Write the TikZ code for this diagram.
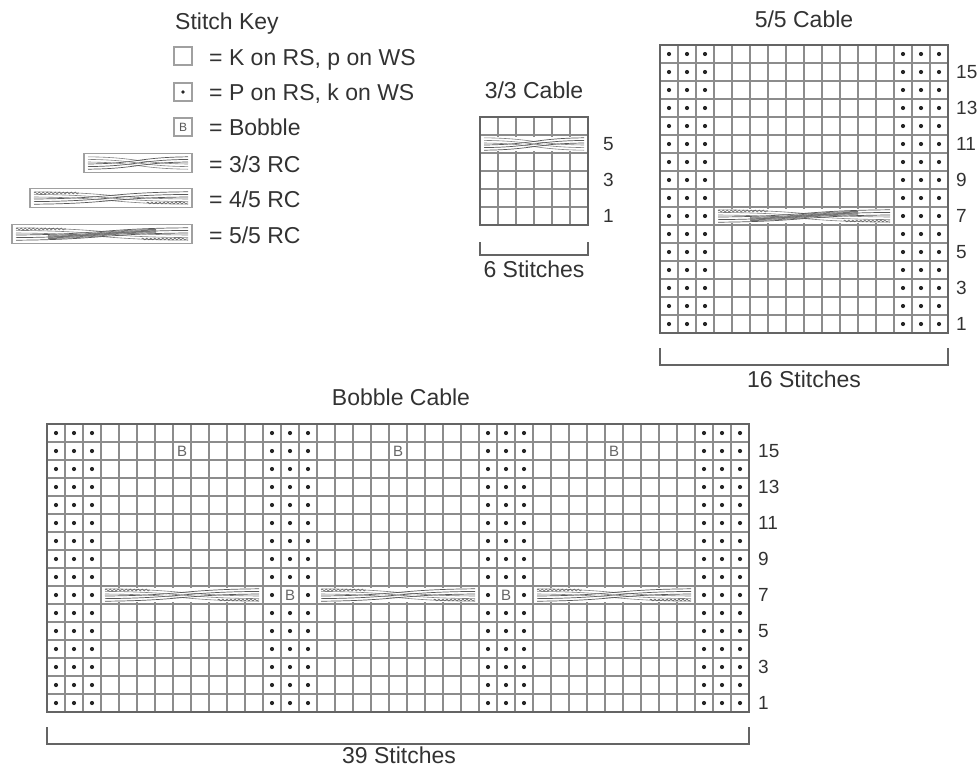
\documentclass[tikz,border=0pt]{standalone}
\usepackage{fontspec}
\setmainfont{Liberation Sans}
\usetikzlibrary{decorations.pathmorphing}
\definecolor{gridgray}{RGB}{140,140,140}
\definecolor{framegray}{RGB}{100,100,100}
\definecolor{inkgray}{RGB}{50,50,50}
\definecolor{keygray}{RGB}{160,160,160}
\tikzset{
  gridline/.style={draw=gridgray, line width=1.5pt},
  chartframe/.style={draw=framegray, line width=2.4pt},
  purldot/.style={fill=black!85},
  chartlabel/.style={font=\fontsize{23}{27}\selectfont, text=inkgray, inner sep=0pt},
  rowlabel/.style={font=\fontsize{19}{22}\selectfont, text=inkgray, inner sep=0pt, anchor=west},
  bobble/.style={font=\fontsize{15}{17}\selectfont, text=black!60, inner sep=0pt},
  keycell/.style={draw=keygray, line width=1.4pt, minimum size=18pt, inner sep=0pt, fill=white},
  bracket/.style={draw=framegray, line width=1.8pt},
  strand/.style={draw=black!50, line width=0.6pt},
  frontstrand/.style={draw=black!65, line width=0.7pt},
  wavy/.style={draw=black!60, line width=0.6pt, decorate,
    decoration={snake, amplitude=0.9pt, segment length=4pt}}
}
\newcommand{\chartgrid}[4]{% left, top, columns, rows
  \pgfmathtruncatemacro{\lastcol}{#3-1}
  \pgfmathtruncatemacro{\lastrow}{#4-1}
  \foreach \c in {1,...,\lastcol}
    \draw[gridline] ({#1+18*\c},#2) -- ++(0,{18*#4});
  \foreach \r in {1,...,\lastrow}
    \draw[gridline] (#1,{#2+18*\r}) -- ++({18*#3},0);
}
\newcommand{\purldots}[4]{% left, top, columns, rows
  \foreach \c in {#3}
    \foreach \r in {#4}
      \fill[purldot] ({#1+18*\c+9},{#2+18*\r+9}) circle[radius=2.1];
}
\newcommand{\cablesym}[3]{% left, right, row centre
  \fill[white] ({#1+1.3},{#3-7.3}) rectangle ({#2-1.3},{#3+7.3});
  \foreach \d in {-2.6,0,2.6} {
    \draw[strand] ({#1+4},{#3-3.6+\d}) .. controls ({0.5*(#1+#2)},{#3-3+\d})
      and ({0.5*(#1+#2)},{#3+3+\d}) .. ({#2-4},{#3+3.6+\d});
    \draw[frontstrand] ({#1+4},{#3+3.6+\d}) .. controls ({0.5*(#1+#2)},{#3+3+\d})
      and ({0.5*(#1+#2)},{#3-3+\d}) .. ({#2-4},{#3-3.6+\d});
  }
}
\newcommand{\cablewave}[3]{% left, right, row centre
  \draw[wavy] ({#1+4},{#3-5}) -- ({#1+0.3*(#2-#1)},{#3-5});
  \draw[wavy] ({#2-0.28*(#2-#1)},{#3+5}) -- ({#2-4},{#3+5});
}
\newcommand{\cableband}[3]{% left, right, row centre
  \foreach \d in {-1.6,-0.8,0,0.8,1.6}
    \draw[frontstrand, draw=black!55] ({#1+0.2*(#2-#1)},{#3+3+\d})
      .. controls ({0.5*(#1+#2)},{#3+2+\d}) and ({0.5*(#1+#2)},{#3-2+\d})
      .. ({#2-0.2*(#2-#1)},{#3-3+\d});
}

\begin{document}
\begin{tikzpicture}[x=1pt, y=-1pt]
  \useasboundingbox (0,0) rectangle (979,769);

  \node[chartlabel, anchor=base west] (keytitle) at (175,29) {Stitch Key};
  \node[keycell] (keyknit) at (183,56) {};
  \node[keycell] (keypurl) at (183,92) {};
  \fill[purldot] (keypurl.center) circle[radius=1.8];
  \node[keycell, font=\fontsize{12}{14}\selectfont, text=black!65] (keybob) at (183,127) {B};
  \draw[keycell] (84,153.5) rectangle (192,172.5);
  \cablesym{84}{192}{163}
  \draw[keycell] (30,188.5) rectangle (192,207.5);
  \cablesym{30}{192}{198}
  \cablewave{30}{192}{198}
  \draw[keycell] (12,224.5) rectangle (192,243.5);
  \cablesym{12}{192}{234}
  \cablewave{12}{192}{234}
  \cableband{12}{192}{234}
  \node[chartlabel, anchor=base west] (keyknittext) at (209,65) {= K on RS, p on WS};
  \node[chartlabel, anchor=base west] (keypurltext) at (209,100) {= P on RS, k on WS};
  \node[chartlabel, anchor=base west] (keybobtext) at (209,135) {= Bobble};
  \node[chartlabel, anchor=base west] (keythreetext) at (209,172) {= 3/3 RC};
  \node[chartlabel, anchor=base west] (keyfourtext) at (209,207) {= 4/5 RC};
  \node[chartlabel, anchor=base west] (keyfivetext) at (209,243) {= 5/5 RC};

  % 3/3 cable
  \node[chartlabel, anchor=base] (threetitle) at (534,98) {3/3 Cable};
  \chartgrid{480}{117}{6}{6}
  \cablesym{480}{588}{144}
  \draw[chartframe] (480,117) rectangle (588,225);
  \foreach \n in {1,3,5}
    \node[rowlabel] (three\n) at (603,{225-18*\n+9}) {\n};
  \draw[bracket] (480,242) -- (480,255) -- (588,255) -- (588,242);
  \node[chartlabel, anchor=base] (threecount) at (534,277) {6 Stitches};

  % 5/5 cable
  \node[chartlabel, anchor=base] (fivetitle) at (804,27) {5/5 Cable};
  \chartgrid{660}{45}{16}{16}
  \purldots{660}{45}{0,1,2,13,14,15}{0,...,15}
  \cablesym{714}{894}{216}
  \cablewave{714}{894}{216}
  \cableband{714}{894}{216}
  \draw[chartframe] (660,45) rectangle (948,333);
  \foreach \n in {1,3,...,15}
    \node[rowlabel] (five\n) at (956,{333-18*\n+9}) {\n};
  \draw[bracket] (660,348) -- (660,365) -- (948,365) -- (948,348);
  \node[chartlabel, anchor=base] (fivecount) at (804,387) {16 Stitches};

  % bobble cable
  \node[chartlabel, anchor=base] (bobtitle) at (401,405) {Bobble Cable};
  \chartgrid{47}{424}{39}{16}
  \purldots{47}{424}{0,1,2,12,14,24,26,36,37,38}{0,...,15}
  \purldots{47}{424}{13,25}{0,...,8,10,11,...,15}
  \foreach \x in {101,317,533} {
    \cablesym{\x}{\x+162}{595}
    \cablewave{\x}{\x+162}{595}
  }
  \foreach \c/\r [count=\i] in {7/1,19/1,31/1,13/9,25/9}
    \node[bobble] (bob\i) at ({47+18*\c+9},{424+18*\r+9}) {B};
  \draw[chartframe] (47,424) rectangle (749,712);
  \foreach \n in {1,3,...,15}
    \node[rowlabel] (bob\n) at (758,{712-18*\n+9}) {\n};
  \draw[bracket] (47,727) -- (47,744) -- (749,744) -- (749,727);
  \node[chartlabel, anchor=base] (bobcount) at (399,763) {39 Stitches};
\end{tikzpicture}
\end{document}
